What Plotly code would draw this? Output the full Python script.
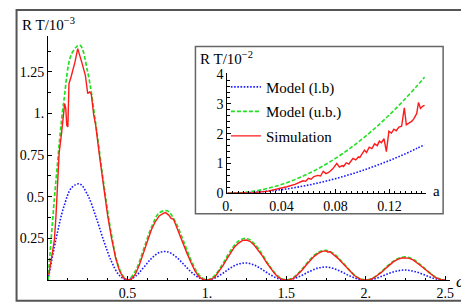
import plotly.graph_objects as go

# ---------------- main panel data ----------------
omega_model = [0.00, 0.05, 0.10, 0.15, 0.20, 0.25, 0.30, 0.35, 0.40, 0.45,
               0.50, 0.55, 0.60, 0.65, 0.70, 0.75, 0.80, 0.85, 0.90, 0.95,
               1.00, 1.05, 1.10, 1.15, 1.20, 1.25, 1.30, 1.35, 1.40, 1.45,
               1.50, 1.55, 1.60, 1.65, 1.70, 1.75, 1.80, 1.85, 1.90, 1.95,
               2.00, 2.05, 2.10, 2.15, 2.20, 2.25, 2.30, 2.35, 2.40, 2.45, 2.50]
model_ub = [0.000, 0.596, 1.078, 1.361, 1.411, 1.248, 0.941, 0.583, 0.270, 0.066,
            0.000, 0.054, 0.180, 0.314, 0.403, 0.416, 0.353, 0.240, 0.120, 0.031,
            0.000, 0.028, 0.098, 0.178, 0.235, 0.250, 0.217, 0.151, 0.077, 0.021,
            0.000, 0.019, 0.067, 0.124, 0.166, 0.178, 0.157, 0.110, 0.057, 0.015,
            0.000, 0.015, 0.051, 0.095, 0.128, 0.139, 0.123, 0.087, 0.045, 0.012, 0.000]
model_lb = [0.000, 0.244, 0.441, 0.556, 0.577, 0.510, 0.384, 0.238, 0.110, 0.027,
            0.000, 0.022, 0.073, 0.128, 0.165, 0.170, 0.144, 0.098, 0.049, 0.013,
            0.000, 0.012, 0.040, 0.073, 0.096, 0.102, 0.089, 0.062, 0.031, 0.008,
            0.000, 0.009, 0.029, 0.053, 0.072, 0.078, 0.068, 0.048, 0.024, 0.006,
            0.000, 0.006, 0.022, 0.041, 0.055, 0.060, 0.053, 0.038, 0.019, 0.005, 0.000]

omega_sim = [0.005, 0.02, 0.04, 0.05, 0.06, 0.07, 0.085, 0.095, 0.105, 0.112,
             0.118, 0.125, 0.132, 0.145, 0.16, 0.17, 0.187, 0.20, 0.215, 0.235,
             0.25, 0.262, 0.272, 0.288, 0.30, 0.325, 0.35, 0.375, 0.40, 0.425,
             0.45, 0.475, 0.50, 0.525, 0.55, 0.575, 0.60, 0.625, 0.65, 0.675,
             0.70, 0.725, 0.74, 0.76, 0.775, 0.79, 0.80, 0.825, 0.85, 0.875,
             0.90, 0.925, 0.95, 0.975, 1.00, 1.025, 1.05, 1.075, 1.10, 1.125,
             1.15, 1.175, 1.20, 1.225, 1.25, 1.275, 1.30, 1.325, 1.35, 1.375,
             1.40, 1.425, 1.45, 1.475, 1.50, 1.525, 1.55, 1.575, 1.60, 1.625,
             1.65, 1.675, 1.70, 1.725, 1.75, 1.76, 1.775, 1.80, 1.825, 1.85,
             1.875, 1.90, 1.925, 1.95, 1.975, 2.00, 2.025, 2.05, 2.075, 2.10,
             2.125, 2.15, 2.175, 2.20, 2.225, 2.25, 2.275, 2.30, 2.325, 2.35,
             2.375, 2.40, 2.425, 2.45, 2.475, 2.50]
sim = [0.03, 0.12, 0.24, 0.38, 0.58, 0.76, 0.88, 0.97, 1.06, 1.03,
       0.93, 0.92, 1.18, 1.22, 1.27, 1.31, 1.39, 1.34, 1.30, 1.23,
       1.12, 1.13, 1.12, 0.99, 0.93, 0.74, 0.56, 0.39, 0.25, 0.135,
       0.055, 0.012, 0.0, 0.005, 0.035, 0.09, 0.16, 0.23, 0.30, 0.35,
       0.385, 0.40, 0.405, 0.39, 0.37, 0.365, 0.34, 0.28, 0.225, 0.16,
       0.105, 0.055, 0.02, 0.004, 0.0, 0.003, 0.018, 0.048, 0.085, 0.125,
       0.165, 0.20, 0.222, 0.238, 0.24, 0.23, 0.207, 0.178, 0.143, 0.105,
       0.07, 0.04, 0.015, 0.003, 0.0, 0.002, 0.013, 0.035, 0.06, 0.09,
       0.117, 0.142, 0.16, 0.172, 0.175, 0.168, 0.17, 0.152, 0.13, 0.105,
       0.078, 0.052, 0.03, 0.012, 0.002, 0.0, 0.002, 0.012, 0.028, 0.047,
       0.07, 0.09, 0.11, 0.124, 0.132, 0.133, 0.13, 0.119, 0.103, 0.083,
       0.063, 0.042, 0.024, 0.01, 0.002, 0.0]

main_xticks = [0.5, 1.0, 1.5, 2.0, 2.5]
main_xticklabels = ["0.5", "1.", "1.5", "2.", "2.5"]
main_yticks = [0.25, 0.5, 0.75, 1.0, 1.25]
main_yticklabels = ["0.25", "0.5", "0.75", "1.", "1.25"]

# ---------------- inset data ----------------
a_model = [0.0, 0.01, 0.02, 0.03, 0.04, 0.05, 0.06, 0.07, 0.08, 0.09,
           0.10, 0.11, 0.12, 0.13, 0.14, 0.146]
inset_ub = [0.0, 0.018, 0.073, 0.165, 0.293, 0.458, 0.659, 0.897, 1.171, 1.482,
            1.83, 2.214, 2.635, 3.093, 3.587, 3.90]
inset_lb = [0.0, 0.008, 0.031, 0.069, 0.122, 0.191, 0.275, 0.375, 0.49, 0.62,
            0.765, 0.926, 1.10, 1.29, 1.50, 1.63]
a_sim = [0.0, 0.01, 0.02, 0.03, 0.037, 0.044, 0.05, 0.053, 0.056, 0.058,
         0.06, 0.062, 0.064, 0.067, 0.069, 0.071, 0.073, 0.075, 0.078, 0.081,
         0.083, 0.085, 0.086, 0.088, 0.09, 0.091, 0.093, 0.095, 0.097, 0.098,
         0.10, 0.1015, 0.103, 0.105, 0.107, 0.109, 0.111, 0.1125, 0.114, 0.116,
         0.1177, 0.1196, 0.1215, 0.1233, 0.125, 0.127, 0.129, 0.131, 0.1325, 0.1345,
         0.1366, 0.138, 0.1402, 0.1415, 0.143, 0.1445, 0.146]
inset_sim = [0.0, 0.0, 0.02, 0.07, 0.14, 0.22, 0.30, 0.36, 0.42, 0.40,
             0.50, 0.47, 0.56, 0.60, 0.58, 0.74, 0.66, 0.70, 0.82, 1.00,
             0.88, 0.93, 0.90, 1.02, 0.98, 1.05, 1.17, 1.12, 1.22, 1.20,
             1.32, 1.45, 1.37, 1.55, 1.50, 1.66, 1.60, 1.75, 1.70, 1.83,
             1.40, 2.08, 2.02, 2.15, 2.10, 2.22, 2.25, 2.87, 2.30, 2.35,
             2.42, 2.50, 2.68, 3.05, 2.85, 2.92, 2.95]

inset_xticks = [0.0, 0.04, 0.08, 0.12]
inset_xticklabels = ["0.", "0.04", "0.08", "0.12"]
inset_yticks = [0, 1, 2, 3, 4]
inset_yticklabels = ["0", "1", "2", "3", "4"]

BLUE = "#1a1aff"
GREEN = "#22e022"
RED = "#ff1a1a"
SERIF = "Liberation Serif"

# ---------------- geometry (pixels) ----------------
W, H = 469, 305
L, R, T, B = 33, 27, 28, 23
PW, PH = W - L - R, H - T - B


def px(x):
    return (x - L) / PW


def py(y):
    return (H - B - y) / PH


fig = go.Figure()

# main panel traces
fig.add_trace(go.Scatter(x=omega_model, y=model_lb, mode="lines", line_shape="spline",
                         line=dict(color=BLUE, width=1.6, dash="1.6px,1.6px"),
                         showlegend=False, xaxis="x", yaxis="y"))
fig.add_trace(go.Scatter(x=omega_model, y=model_ub, mode="lines", line_shape="spline",
                         line=dict(color=GREEN, width=1.7, dash="4px,2px"),
                         showlegend=False, xaxis="x", yaxis="y"))
fig.add_trace(go.Scatter(x=omega_sim, y=sim, mode="lines",
                         line=dict(color=RED, width=1.4),
                         showlegend=False, xaxis="x", yaxis="y"))

# inset traces
fig.add_trace(go.Scatter(x=a_model, y=inset_lb, mode="lines", line_shape="spline",
                         name="Model (l.b)", legendgroup="g1",
                         line=dict(color=BLUE, width=1.6, dash="1.6px,1.6px"),
                         xaxis="x2", yaxis="y2"))
fig.add_trace(go.Scatter(x=a_model, y=inset_ub, mode="lines", line_shape="spline",
                         name="Model (u.b.)", legendgroup="g2",
                         line=dict(color=GREEN, width=1.6, dash="4px,2px"),
                         xaxis="x2", yaxis="y2"))
fig.add_trace(go.Scatter(x=a_sim, y=inset_sim, mode="lines", name="Simulation",
                         legendgroup="g3",
                         line=dict(color=RED, width=1.4),
                         xaxis="x2", yaxis="y2"))

tickfont = dict(family=SERIF, size=14, color="black")
axis_common = dict(showgrid=False, zeroline=False, showline=True, linecolor="black",
                   linewidth=1, ticks="inside", tickcolor="black", ticklen=4,
                   tickwidth=1, tickfont=tickfont, fixedrange=True)

fig.update_layout(
    width=W, height=H,
    margin=dict(l=L, r=R, t=T, b=B, pad=0),
    paper_bgcolor="white", plot_bgcolor="white",
    xaxis=dict(domain=[0, 1], range=[0, 2.53], tickvals=main_xticks,
               ticktext=main_xticklabels, anchor="y",
               minor=dict(dtick=0.125, tick0=0, ticks="inside", ticklen=2.5,
                          tickcolor="black", showgrid=False),
               **axis_common),
    yaxis=dict(domain=[0, 1], range=[0, 1.466], tickvals=main_yticks,
               ticktext=main_yticklabels, anchor="x",
               minor=dict(dtick=0.125, tick0=0, ticks="inside", ticklen=2.5,
                          tickcolor="black", showgrid=False),
               **axis_common),
    xaxis2=dict(domain=[px(215.5), px(417.5)], range=[0, 0.147],
                tickvals=inset_xticks, ticktext=inset_xticklabels, anchor="y2",
                minor=dict(dtick=0.004, tick0=0, ticks="inside", ticklen=2.5,
                           tickcolor="black", showgrid=False),
                **axis_common),
    yaxis2=dict(domain=[py(191.7), py(66.8)], range=[0, 4.03],
                tickvals=inset_yticks, ticktext=inset_yticklabels, anchor="x2",
                minor=dict(dtick=0.2, tick0=0, ticks="inside", ticklen=2.5,
                           tickcolor="black", showgrid=False),
                **axis_common),
    showlegend=True,
    legend=dict(x=px(214), y=py(64), xanchor="left", yanchor="top",
                bgcolor="rgba(0,0,0,0)", borderwidth=0,
                font=dict(family=SERIF, size=15, color="black"),
                tracegroupgap=2),
    shapes=[
        # outer frame
        dict(type="rect", xref="paper", yref="paper", x0=px(1), x1=px(467.5),
             y0=py(303.5), y1=py(1), line=dict(color="#555555", width=2),
             fillcolor="rgba(0,0,0,0)", layer="above"),
        # inset box
        dict(type="rect", xref="paper", yref="paper", x0=px(183), x1=px(435),
             y0=py(213), y1=py(39), line=dict(color="#666666", width=1.5),
             fillcolor="white", layer="below"),
    ],
    annotations=[
        dict(text="R T/10<sup>−3</sup>", xref="paper", yref="paper",
             x=px(5), y=py(15), xanchor="left", yanchor="middle", showarrow=False,
             font=dict(family=SERIF, size=15, color="black")),
        dict(text="<i>ω</i>", xref="paper", yref="paper",
             x=px(446), y=py(284), xanchor="left", yanchor="middle", showarrow=False,
             font=dict(family=SERIF, size=17, color="black")),
        dict(text="R T/10<sup>−2</sup>", xref="paper", yref="paper",
             x=px(186), y=py(51), xanchor="left", yanchor="middle", showarrow=False,
             font=dict(family=SERIF, size=15, color="black")),
        dict(text="a", xref="paper", yref="paper",
             x=px(428), y=py(189), xanchor="center", yanchor="middle", showarrow=False,
             font=dict(family=SERIF, size=15, color="black")),
    ],
)

fig.write_html("out.html")
